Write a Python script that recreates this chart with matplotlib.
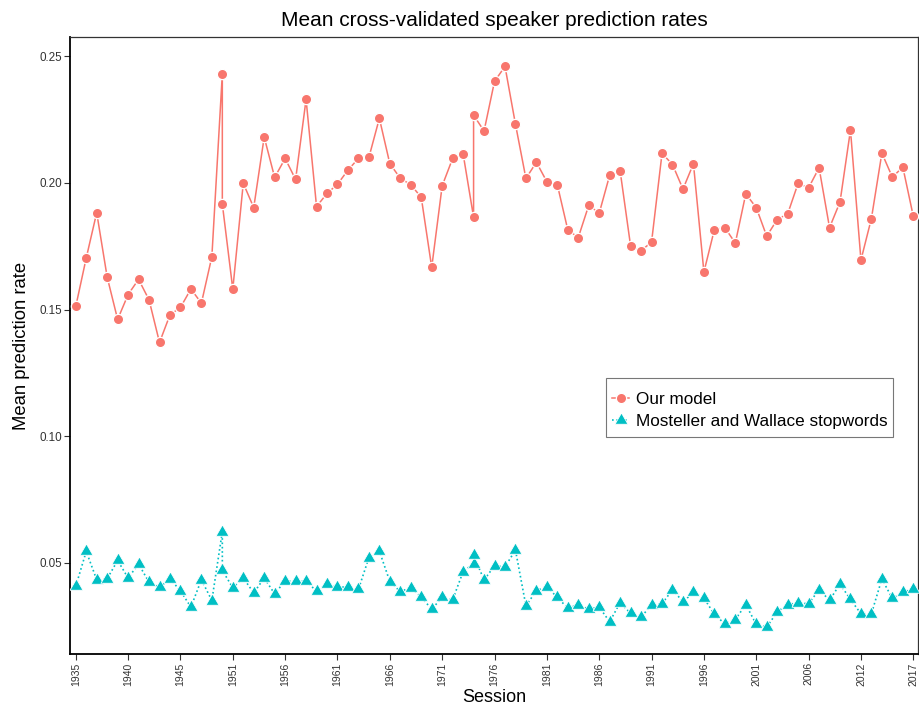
import matplotlib
matplotlib.use("Agg")
import matplotlib.pyplot as plt
from matplotlib.path import Path
from matplotlib.patches import Rectangle
import numpy as np

# ---- data ----
session_levels = ([str(y) for y in range(1935, 1946)] + ["1946", "1947", "1948", "1949"]
                  + [str(y) for y in range(1951, 2007)] + ["2007", "2008", "2009", "2010"]
                  + [str(y) for y in range(2012, 2018)])

point_sessions = (session_levels[:15] + ["1949"] + session_levels[15:39] + ["1974"]
                  + session_levels[39:])

our_model = [0.1512, 0.1703, 0.1882, 0.1628, 0.1461, 0.1559, 0.1619, 0.1538, 0.1370, 0.1479,
             0.1508, 0.1581, 0.1525, 0.1708, 0.2430, 0.1916, 0.1580, 0.1998, 0.1902, 0.2180,
             0.2021, 0.2096, 0.2013, 0.2329, 0.1906, 0.1958, 0.1994, 0.2050, 0.2096, 0.2100,
             0.2254, 0.2075, 0.2018, 0.1992, 0.1943, 0.1666, 0.1988, 0.2096, 0.2114, 0.1864,
             0.2267, 0.2204, 0.2400, 0.2459, 0.2231, 0.2017, 0.2081, 0.2004, 0.1992, 0.1814,
             0.1784, 0.1911, 0.1880, 0.2030, 0.2046, 0.1750, 0.1732, 0.1766, 0.2116, 0.2072,
             0.1975, 0.2075, 0.1648, 0.1815, 0.1823, 0.1762, 0.1956, 0.1902, 0.1789, 0.1855,
             0.1877, 0.1998, 0.1980, 0.2059, 0.1823, 0.1924, 0.2208, 0.1695, 0.1859, 0.2117,
             0.2022, 0.2062, 0.1868]

mw_stopwords = [0.0408, 0.0546, 0.0434, 0.0438, 0.0510, 0.0441, 0.0496, 0.0424, 0.0404, 0.0438,
                0.0390, 0.0326, 0.0434, 0.0352, 0.0624, 0.0471, 0.0402, 0.0441, 0.0382, 0.0441,
                0.0378, 0.0430, 0.0428, 0.0430, 0.0388, 0.0417, 0.0406, 0.0404, 0.0396, 0.0521,
                0.0547, 0.0427, 0.0387, 0.0403, 0.0365, 0.0318, 0.0364, 0.0355, 0.0466, 0.0498,
                0.0531, 0.0433, 0.0489, 0.0485, 0.0551, 0.0331, 0.0391, 0.0407, 0.0364, 0.0322,
                0.0335, 0.0318, 0.0326, 0.0268, 0.0344, 0.0301, 0.0286, 0.0336, 0.0339, 0.0395,
                0.0347, 0.0384, 0.0362, 0.0297, 0.0260, 0.0277, 0.0336, 0.0258, 0.0247, 0.0307,
                0.0336, 0.0343, 0.0339, 0.0395, 0.0353, 0.0417, 0.0356, 0.0300, 0.0300, 0.0437,
                0.0360, 0.0384, 0.0398]

y_ticks = [0.05, 0.10, 0.15, 0.20, 0.25]
series_names = ["Our model", "Mosteller and Wallace stopwords"]
title = "Mean cross-validated speaker prediction rates"

# ---- plot ----
plt.rcParams['font.family'] = ['Liberation Sans', 'DejaVu Sans']

red = "#F8766D"
cyan = "#00BFC4"

xpos = np.array([session_levels.index(s) for s in point_sessions])

fig = plt.figure(figsize=(9.2, 7.08), dpi=100)
ax = fig.add_axes([70/920, 1 - 654/708, (918-70)/920, (654-37)/708])

tri = Path([(0, 1), (-0.866, -0.5), (0.866, -0.5), (0, 1)],
           [Path.MOVETO, Path.LINETO, Path.LINETO, Path.CLOSEPOLY])

ax.plot(xpos, our_model, color=red, lw=1.1, marker='o', markersize=7.4,
        markerfacecolor=red, markeredgecolor='white', markeredgewidth=0.9,
        label=series_names[0], zorder=3)
ax.plot(xpos, mw_stopwords, color=cyan, lw=1.2, linestyle=(0, (1, 1.6)), marker=tri,
        markersize=10.8, markerfacecolor=cyan, markeredgecolor='white', markeredgewidth=0.6,
        label=series_names[1], zorder=3)

ax.set_xlim(-0.55, len(session_levels) - 1 + 0.45)
ax.set_ylim(0.0141, 0.2575)

tick_idx = list(range(0, len(session_levels), 5))
ax.set_xticks(tick_idx)
ax.set_xticklabels([session_levels[i] for i in tick_idx], rotation=90, fontsize=7.5,
                   color='#333333')
ax.set_yticks(y_ticks)
ax.set_yticklabels([f"{v:.2f}" for v in y_ticks], fontsize=8.4, color='#333333')
ax.tick_params(axis='both', direction='out', length=4, width=0.8, color='#333333', pad=2)

for side in ['left', 'bottom']:
    ax.spines[side].set_linewidth(1.3)
    ax.spines[side].set_color('black')
for side in ['top', 'right']:
    ax.spines[side].set_linewidth(0.9)
    ax.spines[side].set_color('#333333')

ax.set_title(title, fontsize=15, pad=8)
fig.text(494/920, 1 - 697/708, "Session", ha='center', va='center', fontsize=13)
fig.text(22/920, 1 - 346/708, "Mean prediction rate", ha='center', va='center',
         rotation=90, fontsize=13.3)

# legend box
box = Rectangle((606/920, 1 - 437/708), (893-606)/920, (437-378)/708,
                transform=fig.transFigure, facecolor='white', edgecolor='#777777',
                linewidth=0.8, zorder=5, clip_on=False)
ax.add_patch(box)
leg = ax.legend(loc='center left', bbox_to_anchor=(612/920, 1 - 410.5/708),
                bbox_transform=fig.transFigure,
                fontsize=12.3, frameon=False, borderpad=0.0,
                handlelength=1.0, handletextpad=0.4, labelspacing=0.36, borderaxespad=0)
leg.set_zorder(6)

fig.savefig("out.png", dpi=100)
